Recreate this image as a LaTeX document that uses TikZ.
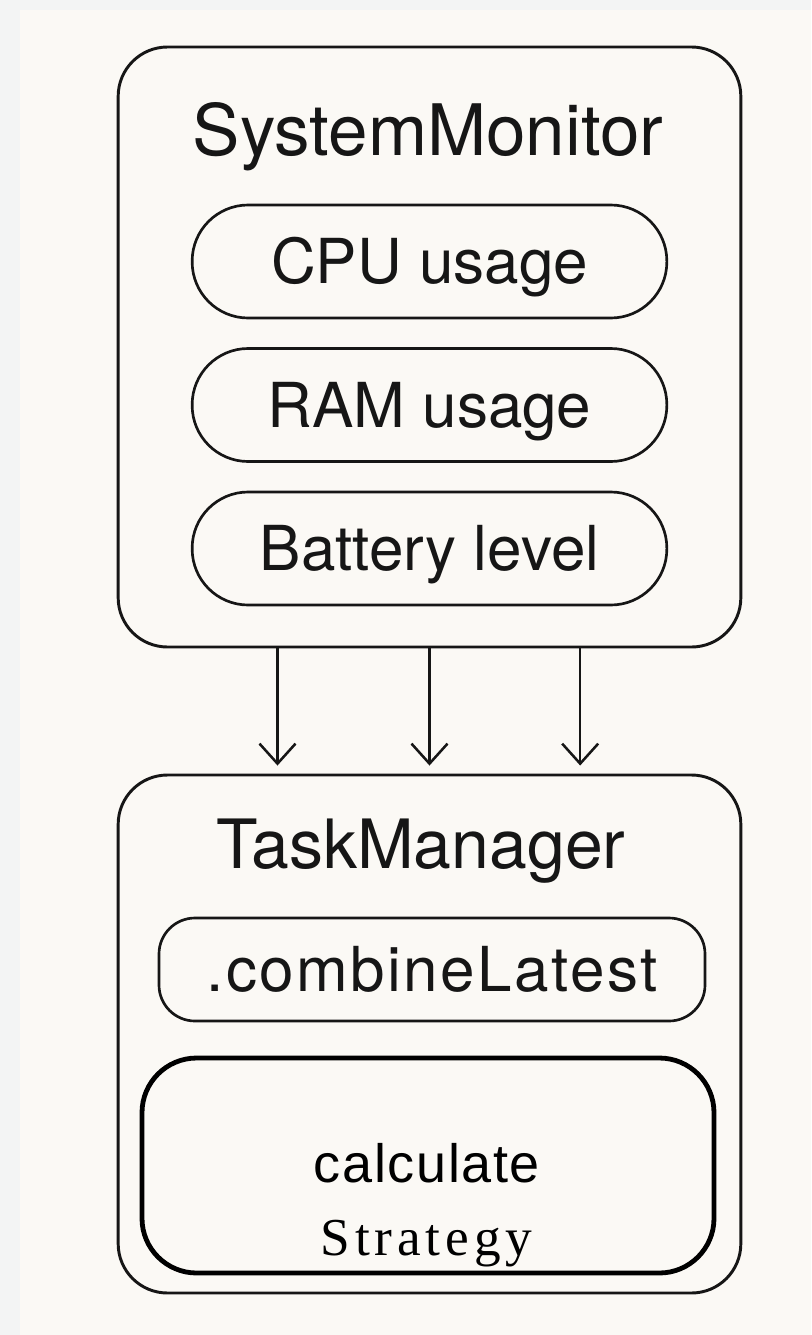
\documentclass[tikz,border=0pt]{standalone}
\usepackage{fontspec}
\setmainfont{TeX Gyre Heros}
\newfontfamily\combfont[LetterSpace=4]{TeX Gyre Heros}
\newfontfamily\calcfont[LetterSpace=3]{Liberation Sans}
\newfontfamily\stratfont[LetterSpace=9]{Liberation Serif}
\usepackage{xcolor}
\usepackage{tikz}
\usetikzlibrary{positioning,arrows.meta}

\definecolor{paper}{RGB}{251,249,245}
\definecolor{margin}{RGB}{243,244,244}
\definecolor{ink}{RGB}{22,22,22}

\begin{document}
\begin{tikzpicture}[x=0.75pt,y=-0.75pt]
        \tikzset{module/.style={draw=ink,line width=2.2pt,rounded corners=37pt,minimum width=467pt,inner sep=0pt}};
        \tikzset{title/.style={anchor=base,inner sep=0pt,text=ink}};
        \tikzset{pill/.style={draw=ink,line width=2pt,rounded corners=42pt,minimum width=356pt,minimum height=84.75pt,inner sep=0pt,text height=33.4pt,text depth=0pt,text=ink,font=\fontsize{46.5}{50}\selectfont}};
        \tikzset{combpill/.style={pill,rounded corners=27pt,minimum width=409.5pt,minimum height=77.25pt,font=\combfont\fontsize{46.5}{50}\selectfont}};
        \tikzset{stratbox/.style={draw=black,line width=3.6pt,rounded corners=41pt,minimum width=429pt,minimum height=161.25pt,inner sep=0pt}};
        \tikzset{flow/.style={-{Straight Barb[length=15pt,width=27pt]},line width=1.9pt,draw=ink,shorten >=6pt}};

        \fill[margin] (0,0) rectangle (811,1335);
        \fill[paper] (20,10) rectangle (811,1335);
        \useasboundingbox (0,0) rectangle (811,1335);

        \node [module,minimum height=450pt] (sysmon) at (429.5,347) {};
        \node [title,font=\fontsize{53.25}{56}\selectfont] (sysmon-title) at (428,155) {SystemMonitor};
        \node [pill] (cpu) at (429.5,261.5) {CPU usage};
        \node [pill] (ram) at (429.5,405) {RAM usage};
        \node [pill] (battery) at (429.5,548.5) {Battery level};

        \node [module,minimum height=388.5pt] (taskmgr) at (429.5,1034) {};
        \node [title,font=\fontsize{51}{54}\selectfont] (taskmgr-title) at (421,868) {TaskManager};
        \node [combpill] (combine) at (432,969.5) {.combineLatest};
        \node [stratbox] (calc) at (428,1165.5) {};
        \node [title,font=\calcfont\fontsize{40.5}{44}\selectfont,text=black] (calc-top) at (427,1182) {calculate};
        \node [title,font=\stratfont\fontsize{40}{44}\selectfont,text=black] (calc-bot) at (426.5,1255) {Strategy};

        \foreach \dx in {-114,0,113}
            \draw [flow] ([xshift=\dx pt]sysmon.south) -- ([xshift=\dx pt]taskmgr.north);
    \end{tikzpicture}
\end{document}
